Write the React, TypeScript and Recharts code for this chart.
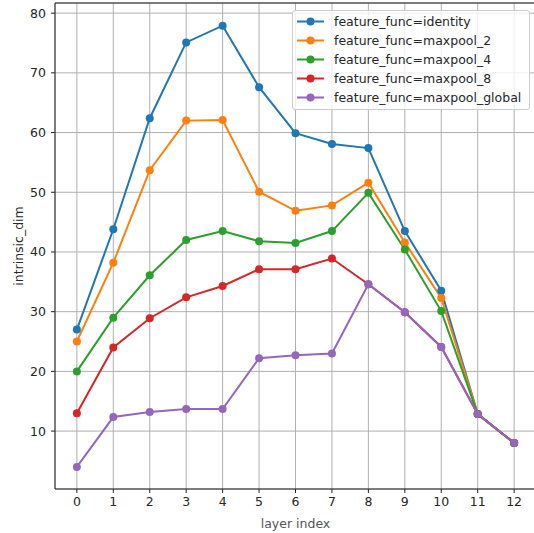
import { LineChart, Line, XAxis, YAxis, CartesianGrid, Legend, ReferenceLine } from "recharts";

// layer index on x, intrinsic dimension per feature function on y
const layers = [0, 1, 2, 3, 4, 5, 6, 7, 8, 9, 10, 11, 12];
const identity = [27.0, 43.8, 62.4, 75.1, 77.9, 67.6, 59.9, 58.1, 57.4, 43.5, 33.5, 12.85, 8.0];
const maxpool2 = [25.0, 38.2, 53.7, 62.0, 62.1, 50.1, 46.9, 47.8, 51.6, 41.6, 32.3, 12.85, 8.0];
const maxpool4 = [20.0, 29.0, 36.1, 42.0, 43.5, 41.8, 41.5, 43.5, 49.9, 40.4, 30.1, 12.85, 8.0];
const maxpool8 = [13.0, 24.0, 28.9, 32.4, 34.3, 37.1, 37.1, 38.9, 34.6, 29.9, 24.1, 12.85, 8.0];
const maxpoolGlobal = [4.0, 12.35, 13.2, 13.7, 13.7, 22.2, 22.7, 23.0, 34.6, 29.9, 24.1, 12.85, 8.0];
const yTicks = [10, 20, 30, 40, 50, 60, 70, 80];

const series = [
  { key: "identity", name: "feature_func=identity", color: "#1f77b4", values: identity },
  { key: "maxpool_2", name: "feature_func=maxpool_2", color: "#ff7f0e", values: maxpool2 },
  { key: "maxpool_4", name: "feature_func=maxpool_4", color: "#2ca02c", values: maxpool4 },
  { key: "maxpool_8", name: "feature_func=maxpool_8", color: "#d62728", values: maxpool8 },
  { key: "maxpool_global", name: "feature_func=maxpool_global", color: "#9467bd", values: maxpoolGlobal },
];

const data = layers.map((layer, i) => {
  const row: Record<string, number> = { layer };
  series.forEach((s) => (row[s.key] = s.values[i]));
  return row;
});

const FONT = "'DejaVu Sans', sans-serif";
const INK = "#262626";

const LegendBox = () => (
  <div
    style={{
      border: "1px solid #cccccc",
      borderRadius: 3,
      background: "rgba(255,255,255,0.8)",
      padding: "1px 0 2px 0",
      width: 236,
      fontFamily: FONT,
      fontSize: 12.5,
      color: INK,
    }}
  >
    {series.map((s) => (
      <div key={s.key} style={{ display: "flex", alignItems: "center", height: 19 }}>
        <svg width={36} height={19} style={{ marginLeft: 4, flexShrink: 0 }}>
          <line x1={0} y1={9.5} x2={27} y2={9.5} stroke={s.color} strokeWidth={2} />
          <circle cx={13.5} cy={9.5} r={4} fill={s.color} />
        </svg>
        <span style={{ marginLeft: 1, whiteSpace: "nowrap" }}>{s.name}</span>
      </div>
    ))}
  </div>
);

const YLabel = () => (
  <text
    x={18}
    y={246}
    transform="rotate(-90, 18, 246)"
    textAnchor="middle"
    dominantBaseline="central"
    fontFamily={FONT}
    fontSize={12.5}
    fill={INK}
  >
    intrinsic_dim
  </text>
);

export default function App() {
  return (
    <div style={{ position: "absolute", left: 0, top: 0, width: 534, height: 533, overflow: "hidden", background: "#fff" }}>
      <LineChart width={536} height={533} data={data} margin={{ top: 3, right: 0, bottom: 0, left: 0 }}>
        <CartesianGrid stroke="#b0b0b0" strokeWidth={1} />
        <XAxis
          dataKey="layer"
          type="number"
          domain={[-0.6, 12.6]}
          ticks={layers}
          allowDataOverflow
          height={44}
          interval={0}
          tickSize={4}
          tickMargin={4}
          axisLine={{ stroke: "#222", strokeWidth: 1 }}
          tickLine={{ stroke: "#222" }}
          tick={{ fill: INK, fontSize: 12.5, fontFamily: FONT }}
          label={{ value: "layer index", position: "insideBottom", offset: 5, fill: "#555", fontSize: 12.5, fontFamily: FONT }}
        />
        <YAxis
          type="number"
          domain={[0.3, 81.7]}
          ticks={yTicks}
          allowDataOverflow
          width={55}
          interval={0}
          tickSize={4}
          tickMargin={5}
          axisLine={{ stroke: "#222", strokeWidth: 1 }}
          tickLine={{ stroke: "#222" }}
          tick={{ fill: INK, fontSize: 12.5, fontFamily: FONT }}
          label={{ content: () => <YLabel /> }}
        />
        <ReferenceLine y={81.7} stroke="#222" strokeWidth={1} />
        {series.map((s) => (
          <Line
            key={s.key}
            dataKey={s.key}
            name={s.name}
            stroke={s.color}
            strokeWidth={2}
            dot={{ r: 4, fill: s.color, stroke: "none" }}
            activeDot={false}
            isAnimationActive={false}
          />
        ))}
        <Legend
          layout="vertical"
          align="center"
          verticalAlign="middle"
          content={() => <LegendBox />}
          wrapperStyle={{ left: 292, top: 10, width: 238, bottom: "auto", right: "auto" }}
        />
      </LineChart>
    </div>
  );
}
